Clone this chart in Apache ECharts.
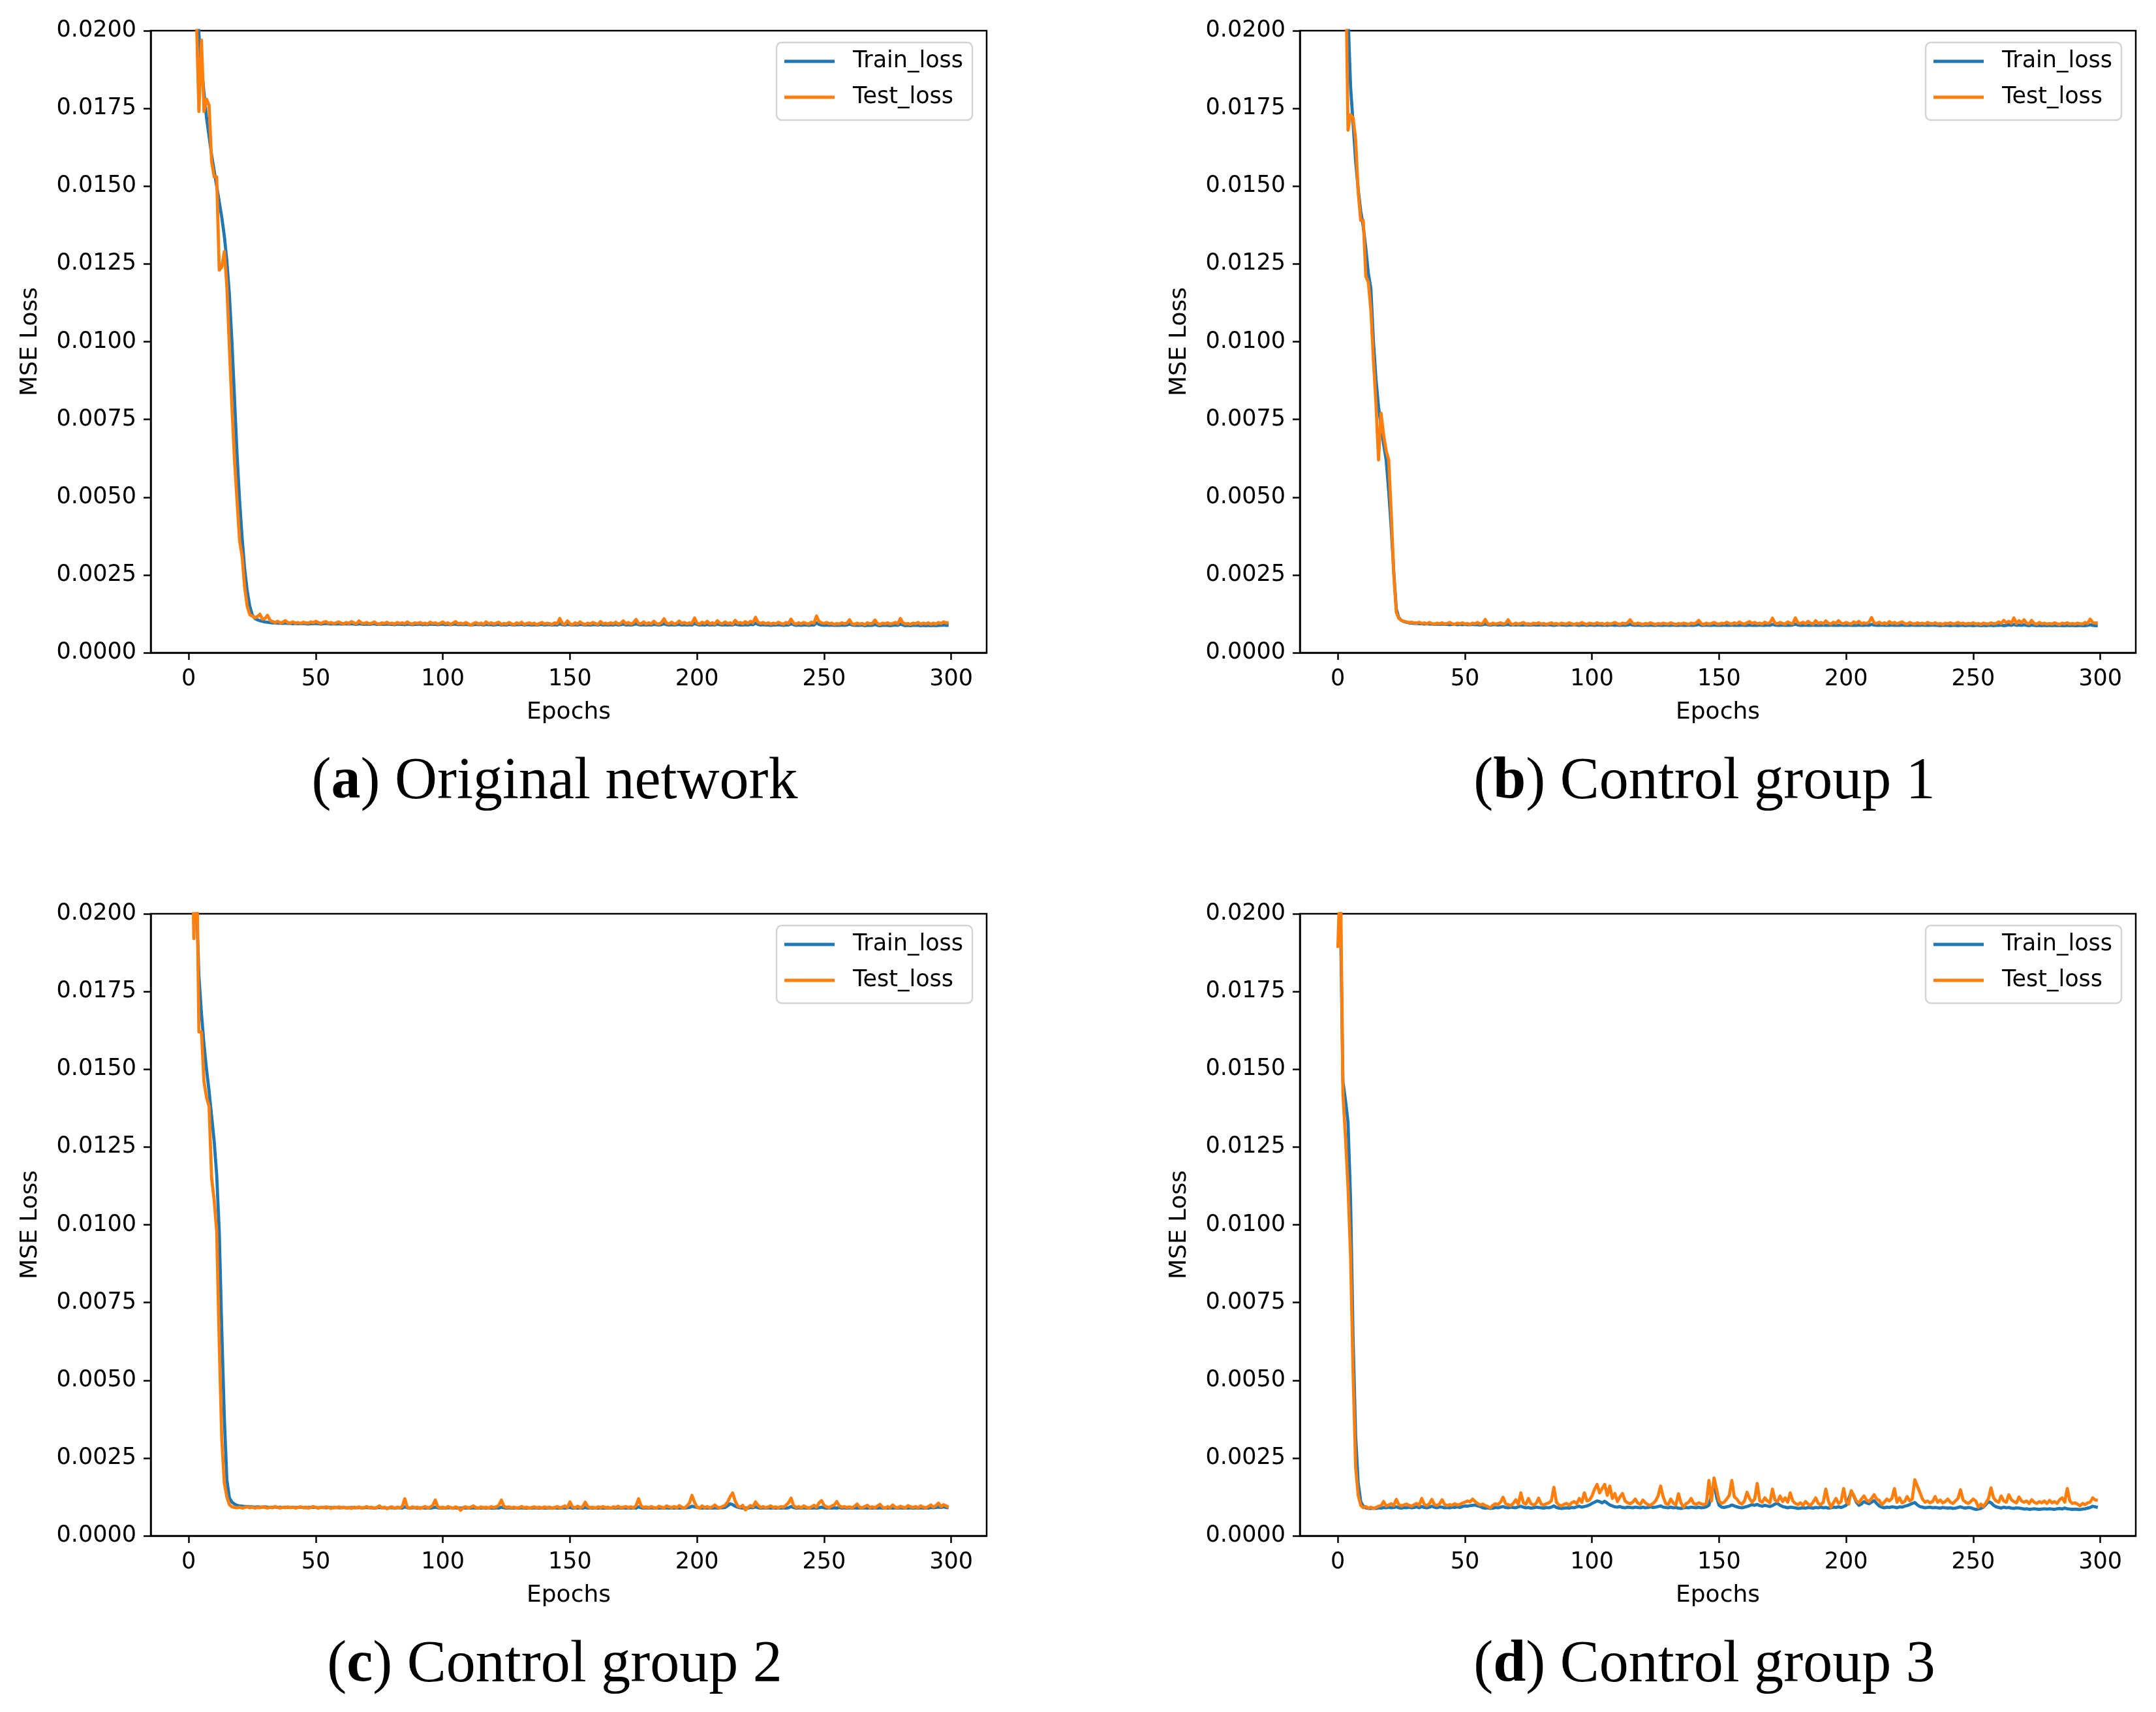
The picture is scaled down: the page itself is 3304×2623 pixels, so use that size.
<!DOCTYPE html>
<html>
<head>
<meta charset="utf-8">
<script src="https://cdn.jsdelivr.net/npm/echarts@6/dist/echarts.min.js"></script>
<style>
html,body{margin:0;padding:0;background:#fff;}
#chart{width:3304px;height:2623px;}
</style>
</head>
<body>
<div id="chart"></div>
<script>
// ---------- DATA (MSE loss per epoch, epochs 0..299) ----------
const xTicks = [0, 50, 100, 150, 200, 250, 300];
const seriesNames = ['Train_loss', 'Test_loss'];
const captions = [
  ['a', 'Original network'],
  ['b', 'Control group 1'],
  ['c', 'Control group 2'],
  ['d', 'Control group 3']
];

const trainA = [
0.0400,0.0300,0.0250,0.0215,0.0199,0.0189,0.0180,0.0172,0.0166,0.0160,
0.0155,0.0150,0.0145,0.0140,0.0134,0.0126,0.0115,0.0100,0.0082,0.0064,
0.0049,0.0037,0.0027,0.0020,0.0015,0.00122,0.00110,0.00106,0.00103,0.00101,
0.00099,0.00098,0.00097,0.00096,0.00096,0.00095,0.00095,0.00094,0.00095,0.00094,
0.00094,0.00093,0.00094,0.00093,0.00093,0.00094,0.00093,0.00092,0.00093,0.00093,
0.00094,0.00093,0.00092,0.00093,0.00094,0.00093,0.00092,0.00093,0.00092,0.00093,
0.00092,0.00092,0.00093,0.00092,0.00093,0.00092,0.00091,0.00093,0.00092,0.00091,
0.00092,0.00091,0.00092,0.00093,0.00091,0.00091,0.00092,0.00091,0.00092,0.00091,
0.00091,0.00090,0.00092,0.00091,0.00091,0.00090,0.00092,0.00091,0.00090,0.00091,
0.00091,0.00092,0.00090,0.00091,0.00090,0.00092,0.00091,0.00091,0.00090,0.00091,
0.00092,0.00090,0.00091,0.00090,0.00091,0.00092,0.00090,0.00091,0.00090,0.00091,
0.00090,0.00089,0.00090,0.00091,0.00090,0.00091,0.00089,0.00091,0.00090,0.00090,
0.00089,0.00090,0.00091,0.00089,0.00090,0.00089,0.00091,0.00090,0.00089,0.00090,
0.00090,0.00091,0.00089,0.00090,0.00090,0.00089,0.00090,0.00089,0.00090,0.00091,
0.00089,0.00090,0.00090,0.00089,0.00090,0.00089,0.00093,0.00090,0.00089,0.00091,
0.00090,0.00089,0.00090,0.00089,0.00091,0.00090,0.00089,0.00090,0.00089,0.00090,
0.00090,0.00089,0.00091,0.00089,0.00090,0.00089,0.00090,0.00089,0.00091,0.00089,
0.00090,0.00092,0.00089,0.00090,0.00089,0.00090,0.00093,0.00090,0.00089,0.00090,
0.00089,0.00090,0.00089,0.00091,0.00090,0.00089,0.00090,0.00093,0.00090,0.00089,
0.00090,0.00089,0.00090,0.00091,0.00089,0.00090,0.00089,0.00090,0.00089,0.00094,
0.00091,0.00089,0.00090,0.00089,0.00091,0.00089,0.00090,0.00089,0.00092,0.00090,
0.00089,0.00090,0.00089,0.00090,0.00089,0.00092,0.00090,0.00089,0.00089,0.00090,
0.00089,0.00091,0.00090,0.00095,0.00091,0.00089,0.00090,0.00089,0.00089,0.00088,
0.00089,0.00089,0.00090,0.00089,0.00088,0.00089,0.00089,0.00093,0.00090,0.00088,
0.00089,0.00088,0.00089,0.00089,0.00088,0.00089,0.00089,0.00096,0.00091,0.00089,
0.00088,0.00089,0.00088,0.00089,0.00088,0.00088,0.00088,0.00089,0.00088,0.00089,
0.00092,0.00089,0.00088,0.00088,0.00088,0.00089,0.00087,0.00088,0.00088,0.00088,
0.00091,0.00088,0.00087,0.00088,0.00088,0.00088,0.00087,0.00088,0.00089,0.00088,
0.00092,0.00089,0.00087,0.00088,0.00087,0.00088,0.00088,0.00088,0.00087,0.00088,
0.00087,0.00088,0.00087,0.00088,0.00087,0.00088,0.00088,0.00089,0.00088,0.00088
];
const testA = [
0.0380,0.0290,0.0225,0.0205,0.0174,0.0197,0.0174,0.0178,0.0176,0.0158,
0.0153,0.0153,0.0123,0.0124,0.0129,0.0118,0.0098,0.0079,0.0062,0.0049,
0.0036,0.0031,0.0021,0.0015,0.00122,0.00118,0.00112,0.00116,0.00124,0.00108,
0.00110,0.00120,0.00104,0.00100,0.00097,0.00101,0.00096,0.00098,0.00103,0.00097,
0.00096,0.00099,0.00095,0.00097,0.00094,0.00098,0.00096,0.00095,0.00099,0.00096,
0.00101,0.00097,0.00094,0.00098,0.00100,0.00095,0.00097,0.00094,0.00096,0.00099,
0.00095,0.00093,0.00097,0.00094,0.00100,0.00096,0.00093,0.00102,0.00095,0.00094,
0.00097,0.00093,0.00095,0.00099,0.00094,0.00092,0.00096,0.00094,0.00098,0.00093,
0.00095,0.00092,0.00097,0.00094,0.00096,0.00093,0.00099,0.00094,0.00092,0.00096,
0.00094,0.00097,0.00093,0.00095,0.00092,0.00098,0.00094,0.00096,0.00092,0.00095,
0.00099,0.00093,0.00096,0.00091,0.00095,0.00100,0.00093,0.00095,0.00092,0.00097,
0.00093,0.00088,0.00094,0.00097,0.00092,0.00095,0.00091,0.00099,0.00093,0.00096,
0.00092,0.00095,0.00098,0.00091,0.00094,0.00092,0.00097,0.00093,0.00090,0.00096,
0.00093,0.00098,0.00091,0.00094,0.00096,0.00092,0.00095,0.00090,0.00094,0.00097,
0.00092,0.00095,0.00093,0.00091,0.00096,0.00093,0.00110,0.00094,0.00091,0.00102,
0.00093,0.00090,0.00096,0.00092,0.00099,0.00093,0.00091,0.00095,0.00092,0.00097,
0.00094,0.00091,0.00100,0.00093,0.00095,0.00092,0.00096,0.00093,0.00098,0.00092,
0.00095,0.00102,0.00093,0.00097,0.00092,0.00096,0.00107,0.00094,0.00093,0.00099,
0.00092,0.00096,0.00093,0.00101,0.00094,0.00092,0.00097,0.00109,0.00095,0.00093,
0.00098,0.00092,0.00095,0.00102,0.00094,0.00097,0.00093,0.00096,0.00094,0.00112,
0.00095,0.00092,0.00098,0.00094,0.00101,0.00093,0.00096,0.00092,0.00103,0.00095,
0.00093,0.00099,0.00094,0.00096,0.00092,0.00104,0.00095,0.00097,0.00093,0.00100,
0.00094,0.00101,0.00096,0.00114,0.00098,0.00094,0.00097,0.00093,0.00096,0.00092,
0.00095,0.00093,0.00098,0.00094,0.00092,0.00097,0.00094,0.00108,0.00095,0.00092,
0.00096,0.00093,0.00097,0.00094,0.00092,0.00098,0.00095,0.00118,0.00100,0.00096,
0.00094,0.00097,0.00093,0.00095,0.00091,0.00094,0.00092,0.00096,0.00093,0.00095,
0.00106,0.00093,0.00091,0.00095,0.00092,0.00094,0.00090,0.00096,0.00093,0.00094,
0.00105,0.00094,0.00091,0.00095,0.00093,0.00096,0.00092,0.00094,0.00097,0.00093,
0.00110,0.00096,0.00092,0.00094,0.00091,0.00095,0.00093,0.00097,0.00092,0.00095,
0.00093,0.00096,0.00091,0.00095,0.00092,0.00097,0.00094,0.00099,0.00096,0.00097
];

const trainB = [
0.0450,0.0340,0.0270,0.0228,0.0205,0.0182,0.0170,0.0158,0.0149,0.0142,
0.0137,0.0130,0.0122,0.0117,0.0100,0.0088,0.0079,0.0073,0.0067,0.0062,
0.0052,0.0040,0.0026,0.0014,0.00112,0.00104,0.00100,0.00098,0.00096,0.00095,
0.00094,0.00094,0.00093,0.00093,0.00092,0.00093,0.00092,0.00092,0.00091,0.00092,
0.00091,0.00092,0.00091,0.00091,0.00090,0.00091,0.00091,0.00090,0.00091,0.00090,
0.00091,0.00090,0.00090,0.00091,0.00090,0.00090,0.00089,0.00090,0.00092,0.00090,
0.00089,0.00090,0.00090,0.00089,0.00090,0.00089,0.00090,0.00091,0.00089,0.00090,
0.00089,0.00090,0.00089,0.00089,0.00090,0.00089,0.00089,0.00090,0.00089,0.00089,
0.00090,0.00089,0.00089,0.00090,0.00089,0.00088,0.00089,0.00090,0.00089,0.00089,
0.00088,0.00089,0.00089,0.00090,0.00089,0.00088,0.00089,0.00089,0.00088,0.00089,
0.00089,0.00088,0.00089,0.00089,0.00088,0.00089,0.00088,0.00089,0.00089,0.00088,
0.00089,0.00088,0.00089,0.00088,0.00089,0.00091,0.00089,0.00088,0.00089,0.00088,
0.00088,0.00089,0.00088,0.00089,0.00088,0.00088,0.00089,0.00088,0.00088,0.00089,
0.00088,0.00088,0.00089,0.00088,0.00088,0.00089,0.00088,0.00088,0.00089,0.00088,
0.00088,0.00089,0.00091,0.00088,0.00088,0.00089,0.00088,0.00088,0.00089,0.00088,
0.00088,0.00088,0.00089,0.00088,0.00088,0.00089,0.00088,0.00088,0.00088,0.00089,
0.00088,0.00088,0.00089,0.00088,0.00088,0.00088,0.00089,0.00088,0.00088,0.00089,
0.00088,0.00091,0.00089,0.00088,0.00088,0.00089,0.00088,0.00088,0.00088,0.00089,
0.00092,0.00089,0.00088,0.00088,0.00089,0.00088,0.00088,0.00089,0.00088,0.00088,
0.00088,0.00089,0.00088,0.00088,0.00089,0.00088,0.00088,0.00088,0.00089,0.00088,
0.00088,0.00089,0.00088,0.00088,0.00088,0.00089,0.00088,0.00088,0.00089,0.00088,
0.00091,0.00089,0.00088,0.00088,0.00089,0.00088,0.00088,0.00088,0.00089,0.00088,
0.00088,0.00088,0.00089,0.00088,0.00088,0.00088,0.00089,0.00088,0.00088,0.00088,
0.00089,0.00088,0.00088,0.00088,0.00089,0.00088,0.00088,0.00087,0.00088,0.00088,
0.00088,0.00087,0.00088,0.00088,0.00087,0.00088,0.00088,0.00087,0.00088,0.00088,
0.00087,0.00088,0.00088,0.00087,0.00088,0.00087,0.00088,0.00088,0.00087,0.00088,
0.00088,0.00089,0.00087,0.00088,0.00090,0.00088,0.00091,0.00088,0.00089,0.00088,
0.00090,0.00088,0.00087,0.00089,0.00088,0.00087,0.00088,0.00087,0.00088,0.00087,
0.00088,0.00087,0.00088,0.00087,0.00088,0.00087,0.00087,0.00088,0.00087,0.00088,
0.00087,0.00087,0.00088,0.00087,0.00087,0.00088,0.00090,0.00088,0.00087,0.00087
];
const testB = [
0.0420,0.0330,0.0265,0.0225,0.0168,0.0173,0.0172,0.0165,0.0148,0.0139,
0.0139,0.0121,0.0119,0.0110,0.0094,0.0080,0.0062,0.0077,0.0070,0.0065,
0.0062,0.0045,0.0025,0.0013,0.00110,0.00104,0.00101,0.00099,0.00097,0.00098,
0.00096,0.00095,0.00098,0.00094,0.00096,0.00093,0.00097,0.00094,0.00092,0.00095,
0.00093,0.00096,0.00092,0.00094,0.00097,0.00093,0.00091,0.00095,0.00093,0.00096,
0.00092,0.00094,0.00091,0.00095,0.00093,0.00097,0.00092,0.00094,0.00107,0.00093,
0.00091,0.00095,0.00092,0.00094,0.00096,0.00092,0.00094,0.00106,0.00093,0.00091,
0.00095,0.00092,0.00094,0.00097,0.00092,0.00093,0.00091,0.00095,0.00093,0.00096,
0.00092,0.00094,0.00091,0.00093,0.00096,0.00092,0.00094,0.00091,0.00095,0.00093,
0.00092,0.00096,0.00093,0.00091,0.00094,0.00092,0.00097,0.00093,0.00091,0.00095,
0.00093,0.00092,0.00096,0.00093,0.00094,0.00091,0.00095,0.00092,0.00094,0.00097,
0.00093,0.00091,0.00095,0.00093,0.00096,0.00106,0.00094,0.00092,0.00095,0.00093,
0.00091,0.00094,0.00092,0.00096,0.00093,0.00091,0.00094,0.00092,0.00095,0.00093,
0.00092,0.00096,0.00093,0.00091,0.00094,0.00092,0.00095,0.00093,0.00091,0.00095,
0.00093,0.00096,0.00104,0.00093,0.00091,0.00095,0.00092,0.00094,0.00097,0.00093,
0.00092,0.00095,0.00093,0.00098,0.00094,0.00092,0.00096,0.00093,0.00099,0.00094,
0.00092,0.00096,0.00100,0.00094,0.00097,0.00093,0.00095,0.00092,0.00098,0.00094,
0.00096,0.00111,0.00095,0.00093,0.00097,0.00094,0.00092,0.00099,0.00095,0.00093,
0.00112,0.00096,0.00094,0.00098,0.00093,0.00101,0.00095,0.00092,0.00103,0.00094,
0.00097,0.00093,0.00102,0.00095,0.00092,0.00098,0.00094,0.00103,0.00095,0.00093,
0.00097,0.00094,0.00092,0.00099,0.00095,0.00101,0.00093,0.00096,0.00094,0.00098,
0.00113,0.00096,0.00094,0.00098,0.00093,0.00096,0.00092,0.00100,0.00094,0.00097,
0.00093,0.00096,0.00099,0.00094,0.00092,0.00097,0.00094,0.00092,0.00096,0.00093,
0.00095,0.00092,0.00097,0.00094,0.00093,0.00096,0.00092,0.00094,0.00091,0.00095,
0.00093,0.00096,0.00092,0.00094,0.00097,0.00093,0.00095,0.00092,0.00094,0.00093,
0.00096,0.00092,0.00094,0.00091,0.00095,0.00093,0.00092,0.00096,0.00093,0.00094,
0.00099,0.00094,0.00104,0.00096,0.00101,0.00095,0.00112,0.00094,0.00103,0.00096,
0.00106,0.00095,0.00093,0.00104,0.00094,0.00092,0.00097,0.00093,0.00095,0.00092,
0.00094,0.00092,0.00096,0.00093,0.00091,0.00095,0.00093,0.00096,0.00092,0.00094,
0.00092,0.00095,0.00093,0.00092,0.00097,0.00094,0.00108,0.00097,0.00095,0.00096
];

const trainC = [
0.0400,0.0300,0.0240,0.0205,0.0180,0.0168,0.0158,0.0150,0.0143,0.0135,
0.0127,0.0116,0.0098,0.0066,0.0038,0.0018,0.00122,0.00108,0.00102,0.00098,
0.00096,0.00095,0.00094,0.00094,0.00093,0.00093,0.00092,0.00093,0.00092,0.00092,
0.00093,0.00092,0.00091,0.00092,0.00092,0.00091,0.00092,0.00091,0.00092,0.00091,
0.00091,0.00092,0.00091,0.00091,0.00092,0.00091,0.00090,0.00091,0.00092,0.00091,
0.00091,0.00090,0.00091,0.00091,0.00090,0.00091,0.00091,0.00090,0.00091,0.00090,
0.00090,0.00091,0.00090,0.00090,0.00091,0.00090,0.00090,0.00091,0.00090,0.00090,
0.00091,0.00090,0.00090,0.00089,0.00090,0.00091,0.00090,0.00090,0.00089,0.00090,
0.00090,0.00089,0.00090,0.00090,0.00089,0.00093,0.00090,0.00089,0.00090,0.00090,
0.00089,0.00090,0.00090,0.00089,0.00090,0.00089,0.00090,0.00092,0.00090,0.00089,
0.00090,0.00089,0.00090,0.00090,0.00089,0.00090,0.00089,0.00089,0.00090,0.00089,
0.00090,0.00089,0.00090,0.00089,0.00090,0.00089,0.00090,0.00089,0.00090,0.00089,
0.00089,0.00090,0.00089,0.00092,0.00090,0.00089,0.00090,0.00089,0.00089,0.00090,
0.00089,0.00090,0.00089,0.00089,0.00090,0.00089,0.00090,0.00089,0.00089,0.00090,
0.00089,0.00089,0.00090,0.00089,0.00090,0.00089,0.00089,0.00090,0.00089,0.00090,
0.00091,0.00089,0.00090,0.00089,0.00090,0.00089,0.00091,0.00089,0.00090,0.00089,
0.00090,0.00089,0.00090,0.00089,0.00089,0.00090,0.00089,0.00090,0.00089,0.00090,
0.00089,0.00090,0.00089,0.00090,0.00089,0.00090,0.00089,0.00093,0.00090,0.00089,
0.00090,0.00089,0.00090,0.00089,0.00090,0.00089,0.00090,0.00089,0.00090,0.00089,
0.00090,0.00089,0.00090,0.00089,0.00090,0.00089,0.00090,0.00091,0.00095,0.00093,
0.00091,0.00090,0.00089,0.00090,0.00089,0.00090,0.00089,0.00090,0.00089,0.00090,
0.00090,0.00091,0.00096,0.00103,0.00100,0.00095,0.00092,0.00090,0.00089,0.00090,
0.00089,0.00091,0.00090,0.00093,0.00090,0.00089,0.00090,0.00089,0.00090,0.00089,
0.00090,0.00089,0.00090,0.00089,0.00090,0.00089,0.00090,0.00094,0.00091,0.00089,
0.00090,0.00089,0.00090,0.00089,0.00090,0.00089,0.00090,0.00089,0.00090,0.00092,
0.00090,0.00089,0.00090,0.00089,0.00090,0.00089,0.00091,0.00089,0.00090,0.00089,
0.00090,0.00089,0.00090,0.00089,0.00090,0.00089,0.00090,0.00089,0.00090,0.00089,
0.00090,0.00089,0.00090,0.00089,0.00090,0.00089,0.00090,0.00089,0.00090,0.00089,
0.00090,0.00089,0.00090,0.00089,0.00090,0.00089,0.00090,0.00089,0.00090,0.00089,
0.00090,0.00089,0.00091,0.00090,0.00091,0.00092,0.00091,0.00093,0.00091,0.00090
];
const testC = [
0.0320,0.0245,0.0192,0.0225,0.0162,0.0162,0.0146,0.0141,0.0138,0.0115,
0.0108,0.0098,0.0062,0.0031,0.0017,0.00125,0.00100,0.00093,0.00091,0.00090,
0.00092,0.00089,0.00091,0.00093,0.00090,0.00092,0.00089,0.00091,0.00090,0.00093,
0.00091,0.00089,0.00092,0.00090,0.00094,0.00091,0.00089,0.00092,0.00090,0.00093,
0.00090,0.00092,0.00089,0.00091,0.00093,0.00090,0.00092,0.00089,0.00091,0.00094,
0.00091,0.00089,0.00092,0.00090,0.00093,0.00091,0.00088,0.00092,0.00090,0.00093,
0.00090,0.00092,0.00089,0.00091,0.00088,0.00092,0.00090,0.00093,0.00089,0.00091,
0.00094,0.00090,0.00092,0.00089,0.00091,0.00096,0.00090,0.00092,0.00087,0.00091,
0.00093,0.00089,0.00092,0.00090,0.00094,0.00119,0.00092,0.00089,0.00093,0.00090,
0.00092,0.00088,0.00091,0.00094,0.00090,0.00092,0.00098,0.00115,0.00093,0.00090,
0.00092,0.00089,0.00094,0.00091,0.00089,0.00093,0.00090,0.00082,0.00091,0.00093,
0.00090,0.00092,0.00096,0.00091,0.00089,0.00093,0.00090,0.00092,0.00089,0.00094,
0.00091,0.00093,0.00098,0.00115,0.00095,0.00091,0.00093,0.00090,0.00092,0.00089,
0.00091,0.00094,0.00090,0.00092,0.00089,0.00091,0.00093,0.00090,0.00092,0.00089,
0.00093,0.00090,0.00092,0.00089,0.00091,0.00094,0.00090,0.00092,0.00096,0.00091,
0.00109,0.00093,0.00090,0.00095,0.00091,0.00093,0.00108,0.00094,0.00090,0.00092,
0.00089,0.00093,0.00091,0.00094,0.00090,0.00092,0.00089,0.00093,0.00091,0.00095,
0.00090,0.00092,0.00094,0.00091,0.00093,0.00090,0.00097,0.00119,0.00096,0.00091,
0.00093,0.00090,0.00094,0.00091,0.00089,0.00095,0.00092,0.00090,0.00096,0.00093,
0.00091,0.00094,0.00090,0.00097,0.00092,0.00089,0.00096,0.00105,0.00130,0.00108,
0.00092,0.00089,0.00096,0.00091,0.00094,0.00090,0.00093,0.00099,0.00092,0.00090,
0.00094,0.00098,0.00108,0.00125,0.00138,0.00112,0.00096,0.00092,0.00098,0.00083,
0.00091,0.00097,0.00093,0.00109,0.00098,0.00091,0.00094,0.00090,0.00093,0.00096,
0.00091,0.00093,0.00090,0.00094,0.00092,0.00098,0.00106,0.00121,0.00097,0.00091,
0.00094,0.00090,0.00096,0.00092,0.00089,0.00093,0.00098,0.00092,0.00106,0.00113,
0.00098,0.00093,0.00091,0.00096,0.00099,0.00110,0.00096,0.00092,0.00094,0.00091,
0.00093,0.00090,0.00095,0.00102,0.00092,0.00090,0.00094,0.00098,0.00091,0.00093,
0.00090,0.00096,0.00101,0.00092,0.00089,0.00094,0.00091,0.00099,0.00092,0.00090,
0.00095,0.00092,0.00090,0.00097,0.00093,0.00091,0.00094,0.00090,0.00096,0.00092,
0.00090,0.00094,0.00099,0.00092,0.00097,0.00105,0.00094,0.00100,0.00096,0.00092
];

const trainD = [
0.0300,0.0200,0.0146,0.0140,0.0133,0.0108,0.0063,0.0032,0.0017,0.0011,
0.00095,0.00090,0.00088,0.00088,0.00089,0.00088,0.00090,0.00089,0.00091,0.00090,
0.00092,0.00090,0.00091,0.00093,0.00090,0.00089,0.00091,0.00090,0.00092,0.00090,
0.00091,0.00093,0.00090,0.00094,0.00091,0.00090,0.00092,0.00095,0.00092,0.00090,
0.00093,0.00092,0.00090,0.00091,0.00090,0.00092,0.00091,0.00093,0.00091,0.00094,
0.00096,0.00095,0.00097,0.00098,0.00099,0.00096,0.00094,0.00090,0.00089,0.00090,
0.00088,0.00089,0.00091,0.00090,0.00092,0.00094,0.00091,0.00090,0.00092,0.00091,
0.00090,0.00093,0.00095,0.00092,0.00090,0.00091,0.00089,0.00090,0.00092,0.00091,
0.00090,0.00089,0.00091,0.00090,0.00092,0.00096,0.00091,0.00089,0.00088,0.00089,
0.00090,0.00089,0.00091,0.00090,0.00093,0.00095,0.00092,0.00094,0.00096,0.00099,
0.00104,0.00108,0.00112,0.00110,0.00106,0.00111,0.00105,0.00099,0.00096,0.00093,
0.00092,0.00094,0.00091,0.00090,0.00092,0.00091,0.00090,0.00092,0.00091,0.00090,
0.00092,0.00090,0.00091,0.00093,0.00091,0.00092,0.00094,0.00096,0.00092,0.00091,
0.00090,0.00092,0.00090,0.00091,0.00089,0.00088,0.00090,0.00091,0.00090,0.00092,
0.00091,0.00090,0.00092,0.00090,0.00091,0.00093,0.00098,0.00130,0.00172,0.00125,
0.00098,0.00092,0.00091,0.00093,0.00095,0.00099,0.00096,0.00093,0.00091,0.00090,
0.00092,0.00094,0.00097,0.00100,0.00098,0.00101,0.00097,0.00095,0.00098,0.00096,
0.00094,0.00097,0.00102,0.00104,0.00098,0.00094,0.00092,0.00090,0.00092,0.00091,
0.00090,0.00088,0.00089,0.00090,0.00089,0.00091,0.00090,0.00089,0.00091,0.00090,
0.00092,0.00090,0.00091,0.00089,0.00090,0.00092,0.00091,0.00093,0.00091,0.00094,
0.00098,0.00118,0.00142,0.00128,0.00108,0.00098,0.00102,0.00110,0.00106,0.00103,
0.00108,0.00113,0.00104,0.00096,0.00092,0.00090,0.00092,0.00091,0.00093,0.00092,
0.00090,0.00093,0.00092,0.00095,0.00097,0.00100,0.00104,0.00107,0.00099,0.00094,
0.00092,0.00090,0.00091,0.00092,0.00090,0.00091,0.00090,0.00089,0.00091,0.00090,
0.00089,0.00090,0.00088,0.00089,0.00091,0.00093,0.00090,0.00089,0.00091,0.00090,
0.00087,0.00085,0.00086,0.00088,0.00092,0.00101,0.00110,0.00106,0.00098,0.00093,
0.00091,0.00089,0.00092,0.00090,0.00091,0.00089,0.00088,0.00090,0.00089,0.00088,
0.00086,0.00087,0.00085,0.00086,0.00087,0.00086,0.00085,0.00086,0.00087,0.00086,
0.00087,0.00086,0.00085,0.00087,0.00088,0.00086,0.00089,0.00087,0.00086,0.00085,
0.00086,0.00085,0.00084,0.00086,0.00087,0.00089,0.00091,0.00095,0.00093,0.00091
];
const testD = [
0.0189,0.0215,0.0142,0.0128,0.0112,0.0090,0.0052,0.0022,0.0013,0.00098,
0.00090,0.00094,0.00089,0.00092,0.00088,0.00091,0.00095,0.00097,0.00110,0.00096,
0.00099,0.00103,0.00097,0.00117,0.00100,0.00096,0.00099,0.00102,0.00098,0.00095,
0.00100,0.00104,0.00098,0.00120,0.00101,0.00097,0.00103,0.00117,0.00100,0.00098,
0.00102,0.00116,0.00101,0.00097,0.00100,0.00098,0.00103,0.00099,0.00101,0.00105,
0.00108,0.00112,0.00109,0.00118,0.00110,0.00104,0.00099,0.00102,0.00097,0.00094,
0.00090,0.00098,0.00103,0.00100,0.00108,0.00124,0.00103,0.00100,0.00097,0.00104,
0.00116,0.00101,0.00138,0.00106,0.00102,0.00120,0.00103,0.00099,0.00104,0.00121,
0.00102,0.00099,0.00103,0.00106,0.00112,0.00156,0.00108,0.00099,0.00096,0.00101,
0.00104,0.00098,0.00106,0.00110,0.00103,0.00120,0.00108,0.00138,0.00112,0.00115,
0.00128,0.00150,0.00165,0.00138,0.00152,0.00165,0.00130,0.00160,0.00120,0.00136,
0.00110,0.00125,0.00136,0.00112,0.00106,0.00103,0.00108,0.00118,0.00105,0.00101,
0.00115,0.00106,0.00100,0.00098,0.00104,0.00112,0.00128,0.00160,0.00125,0.00104,
0.00101,0.00118,0.00105,0.00099,0.00135,0.00106,0.00092,0.00103,0.00108,0.00120,
0.00104,0.00101,0.00106,0.00103,0.00100,0.00104,0.00178,0.00112,0.00186,0.00150,
0.00112,0.00104,0.00108,0.00118,0.00130,0.00178,0.00125,0.00118,0.00106,0.00102,
0.00112,0.00140,0.00120,0.00108,0.00118,0.00168,0.00112,0.00108,0.00122,0.00112,
0.00106,0.00150,0.00115,0.00110,0.00128,0.00110,0.00122,0.00108,0.00138,0.00112,
0.00104,0.00100,0.00106,0.00098,0.00110,0.00102,0.00098,0.00108,0.00122,0.00104,
0.00100,0.00108,0.00150,0.00112,0.00092,0.00106,0.00120,0.00104,0.00110,0.00152,
0.00110,0.00102,0.00145,0.00130,0.00112,0.00106,0.00118,0.00128,0.00115,0.00110,
0.00120,0.00132,0.00118,0.00114,0.00100,0.00108,0.00118,0.00112,0.00120,0.00152,
0.00108,0.00122,0.00106,0.00110,0.00126,0.00112,0.00118,0.00180,0.00160,0.00140,
0.00118,0.00108,0.00112,0.00106,0.00110,0.00126,0.00108,0.00115,0.00106,0.00110,
0.00118,0.00108,0.00104,0.00112,0.00120,0.00148,0.00115,0.00108,0.00104,0.00110,
0.00118,0.00112,0.00092,0.00102,0.00094,0.00106,0.00120,0.00154,0.00122,0.00112,
0.00108,0.00128,0.00112,0.00108,0.00132,0.00116,0.00110,0.00106,0.00125,0.00112,
0.00108,0.00112,0.00104,0.00116,0.00108,0.00104,0.00110,0.00106,0.00112,0.00104,
0.00114,0.00106,0.00110,0.00104,0.00116,0.00122,0.00108,0.00152,0.00112,0.00104,
0.00106,0.00102,0.00096,0.00104,0.00100,0.00106,0.00108,0.00122,0.00115,0.00114
];

// ---------- CHART ----------
const panels = [
  {train: trainA, test: testA},
  {train: trainB, test: testB},
  {train: trainC, test: testC},
  {train: trainD, test: testD}
];
const colors = ['#1f77b4', '#ff7f0e'];
const FONT = 'DejaVu Sans';
const gridPos = [
  {left: 231, top: 47},
  {left: 1992, top: 47},
  {left: 231, top: 1400},
  {left: 1992, top: 1400}
];
const capPos = [[850, 1199], [2612, 1199], [850, 2552], [2612, 2552]];
const GW = 1281, GH = 953;

const grids = [], xAxes = [], yAxes = [], series = [], legends = [], graphics = [];
panels.forEach((p, i) => {
  grids.push({left: gridPos[i].left, top: gridPos[i].top, width: GW, height: GH,
    show: true, borderColor: '#000', borderWidth: 2.5, backgroundColor: '#fff'});
  xAxes.push({
    gridIndex: i, type: 'value', min: -14.95, max: 313.95,
    splitLine: {show: false},
    axisLine: {show: true, onZero: false, lineStyle: {color: '#000', width: 2.5}},
    axisTick: {show: true, inside: false, length: 11, customValues: xTicks, lineStyle: {color: '#000', width: 2.5}},
    axisLabel: {customValues: xTicks, margin: 23, fontSize: 35, fontFamily: FONT, color: '#000'},
    name: 'Epochs', nameLocation: 'middle', nameGap: 74,
    nameTextStyle: {fontSize: 36, fontFamily: FONT, color: '#000'}
  });
  yAxes.push({
    gridIndex: i, type: 'value', min: 0, max: 0.02, interval: 0.0025,
    splitLine: {show: false},
    axisLine: {show: true, onZero: false, lineStyle: {color: '#000', width: 2.5}},
    axisTick: {show: true, inside: false, length: 11, lineStyle: {color: '#000', width: 2.5}},
    axisLabel: {margin: 22, fontSize: 35, fontFamily: FONT, color: '#000',
      formatter: v => v.toFixed(4)},
    name: 'MSE Loss', nameLocation: 'middle', nameGap: 166, nameRotate: 90,
    nameTextStyle: {fontSize: 36, fontFamily: FONT, color: '#000'}
  });
  [p.train, p.test].forEach((arr, k) => {
    series.push({
      name: seriesNames[k], type: 'line', xAxisIndex: i, yAxisIndex: i,
      data: arr.map((v, e) => [e, v]),
      showSymbol: false, symbol: 'none', clip: true,
      lineStyle: {color: colors[k], width: 4.8, join: 'round'},
      itemStyle: {color: colors[k]},
      emphasis: {disabled: true}, animation: false, z: 2 + k
    });
  });
  legends.push({
    data: seriesNames, orient: 'vertical',
    left: gridPos[i].left + 959, top: gridPos[i].top + 18,
    icon: 'rect', itemWidth: 77, itemHeight: 5, itemGap: 19,
    padding: [11, 14, 17, 12],
    borderColor: '#d4d4d4', borderWidth: 2.5, borderRadius: 8,
    backgroundColor: 'rgba(255,255,255,0.8)',
    textStyle: {fontSize: 35, fontFamily: FONT, color: '#000', lineHeight: 36, padding: [0, 0, 0, 23]},
    selectedMode: false
  });
  graphics.push({
    type: 'text', x: capPos[i][0], y: capPos[i][1],
    style: {
      text: '({b|' + captions[i][0] + '}) ' + captions[i][1],
      font: '90px "Liberation Serif"', fill: '#000',
      align: 'center', verticalAlign: 'middle',
      rich: {b: {fontWeight: 'bold', fontSize: 90, fontFamily: 'Liberation Serif', fill: '#000'}}
    }
  });
});

if (panels.some(p => p.train.length !== 300 || p.test.length !== 300)) {
  const lens = panels.map(p => p.train.length + '/' + p.test.length);
  graphics.push({type: 'text', x: 1400, y: 1300, style: {text: 'LEN ' + lens.join(' '), font: '40px sans-serif', fill: 'red'}});
}

const chart = echarts.init(document.getElementById('chart'), null, {renderer: 'canvas'});
chart.setOption({
  animation: false,
  backgroundColor: '#fff',
  grid: grids, xAxis: xAxes, yAxis: yAxes, series: series,
  legend: legends, graphic: graphics
});
</script>
</body>
</html>
